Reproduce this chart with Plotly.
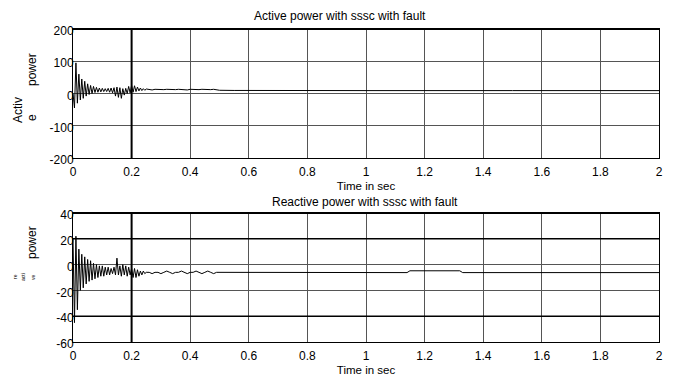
import plotly.graph_objects as go

# ---- data ----
t_fast = [i * 0.005 for i in range(51)]  # 0 .. 0.25 s
t_slow = [0.26 + i * 0.01 for i in range(25)]  # 0.26 .. 0.50 s

active_fast = [0, -45, 95, -30, 60, -20, 45, -15, 38, -8, 30, -3, 25, 0, 22, 3, 19, 4, 17, 5,
               16, 6, 15, 6, 16, 4, 17, 2, 18, -8, 20, -12, 18, -15, 15, -5, 16, 0, 22, 2,
               25, 4, 24, 6, 20, 8, 17, 9, 15, 10, 14]
active_slow = [12, 11, 13, 12, 11, 12, 13, 12, 11, 12, 13, 12, 12, 11, 13, 12, 11, 12, 13, 12,
               11, 12, 13, 11, 10]
active_tail_t = [0.55, 0.7, 1.0, 1.5, 2.0]
active_tail = [9.5, 9, 9, 9, 9]

reactive_fast = [20, -45, 22, -35, 12, -20, 8, -18, 6, -15, 4, -13, 3, -12, 1, -11, 0, -10, -1, -9,
                 -1, -9, -2, -8, -2, -8, -3, -7, -2, -8, 5, -8, -1, -9, 0, -8, -1, -9, -2, -8,
                 -3, -10, -3, -10, -4, -9, -5, -8, -5, -7, -6]
reactive_slow = [-6, -7, -6, -6, -7, -6, -5, -6, -7, -6, -6, -5, -6, -7, -6, -6, -5, -6, -7, -6,
                 -5, -6, -7, -6, -6]
reactive_tail_t = [0.6, 1.0, 1.14, 1.15, 1.32, 1.33, 2.0]
reactive_tail = [-6.2, -6.2, -6.2, -4.8, -4.8, -6.2, -6.2]

x_ticks = [0, 0.2, 0.4, 0.6, 0.8, 1, 1.2, 1.4, 1.6, 1.8, 2]
x_tick_text = ["0", "0.2", "0.4", "0.6", "0.8", "1", "1.2", "1.4", "1.6", "1.8", "2"]
ya_ticks = [-200, -100, 0, 100, 200]
ya_tick_text = ["-200", "-100", "0", "100", "200"]
yr_ticks = [-60, -40, -20, 0, 20, 40]
yr_tick_text = ["-60", "-40", "-20", "0", "20", "40"]

t_active = t_fast + t_slow + active_tail_t
v_active = active_fast + active_slow + active_tail
t_reactive = t_fast + t_slow + reactive_tail_t
v_reactive = reactive_fast + reactive_slow + reactive_tail

# ---- figure ----
W, H = 682, 376
ML, MR, MT, MB = 73, 23, 29, 34
PW, PH = W - ML - MR, H - MT - MB

def px(xp):
    return (xp - ML) / PW

def py(yp):
    return (H - MB - yp) / PH

FONT = "Arial, Liberation Sans, sans-serif"

fig = go.Figure()
fig.add_trace(go.Scatter(x=t_active, y=v_active, mode="lines",
                         line=dict(color="black", width=1), xaxis="x", yaxis="y",
                         showlegend=False, hoverinfo="skip"))
fig.add_trace(go.Scatter(x=t_reactive, y=v_reactive, mode="lines",
                         line=dict(color="black", width=1), xaxis="x2", yaxis="y2",
                         showlegend=False, hoverinfo="skip"))

axis_common = dict(showgrid=True, gridcolor="#555555", gridwidth=1, zeroline=False,
                   showline=True, linecolor="black", linewidth=1, mirror=True,
                   ticks="", automargin=False,
                   tickfont=dict(family=FONT, size=12, color="black"))

fig.update_layout(
    width=W, height=H,
    margin=dict(l=ML, r=MR, t=MT, b=MB),
    paper_bgcolor="white", plot_bgcolor="white",
    font=dict(family=FONT, size=11, color="black"),
    xaxis=dict(domain=[0, 1], anchor="y", range=[0, 2], tickvals=x_ticks, ticktext=x_tick_text,
               ticklabelstandoff=3,
               title=dict(text="Time in sec", font=dict(size=11.5), standoff=3), **axis_common),
    yaxis=dict(domain=[py(158), 1], anchor="x", range=[-200, 200], tickvals=ya_ticks,
               ticktext=ya_tick_text, ticklabelstandoff=-4, ticklabelshift=2, **axis_common),
    xaxis2=dict(domain=[0, 1], anchor="y2", range=[0, 2], tickvals=x_ticks, ticktext=x_tick_text,
                ticklabelstandoff=3,
                title=dict(text="Time in sec", font=dict(size=11.5), standoff=3), **axis_common),
    yaxis2=dict(domain=[0, py(213)], anchor="x2", range=[-60, 40], tickvals=yr_ticks,
                ticktext=yr_tick_text, ticklabelstandoff=-4, ticklabelshift=2, **axis_common),
)

# emphasised grid lines (as in the original)
for xa, ya in [("x", "y"), ("x2", "y2")]:
    fig.add_shape(type="line", xref=xa, yref=f"{ya} domain", x0=0.2, x1=0.2, y0=0, y1=1,
                  line=dict(color="black", width=2))
for yv in [20, -40]:
    fig.add_shape(type="line", xref="x2 domain", yref="y2", x0=0, x1=1, y0=yv, y1=yv,
                  line=dict(color="black", width=1.5))
fig.add_shape(type="line", xref="x domain", yref="y domain", x0=0, x1=1, y0=1, y1=1,
              line=dict(color="black", width=2))
fig.add_shape(type="line", xref="x2 domain", yref="y2 domain", x0=0, x1=1, y0=1, y1=1,
              line=dict(color="black", width=2))

ann = []
ann.append(dict(text="Active power with sssc with fault", x=px(340), y=py(16), xref="paper",
                yref="paper", showarrow=False, xanchor="center", yanchor="middle",
                font=dict(size=12)))
ann.append(dict(text="Reactive power with sssc with fault", x=px(365), y=py(202), xref="paper",
                yref="paper", showarrow=False, xanchor="center", yanchor="middle",
                font=dict(size=12)))
# y labels (split like the original)
for txt, xx, yy, sz in [("power", 32, 70, 12), ("Activ", 18, 110, 12), ("e", 32, 118, 12),
                        ("power", 32, 243, 12), ("re", 15, 277, 5), ("acti", 23, 277, 5),
                        ("ve", 33, 277, 5)]:
    ann.append(dict(text=txt, x=px(xx), y=py(yy), xref="paper", yref="paper", showarrow=False,
                    textangle=-90, xanchor="center", yanchor="middle", font=dict(size=sz)))
fig.update_layout(annotations=ann)

fig.write_html("out.html")
